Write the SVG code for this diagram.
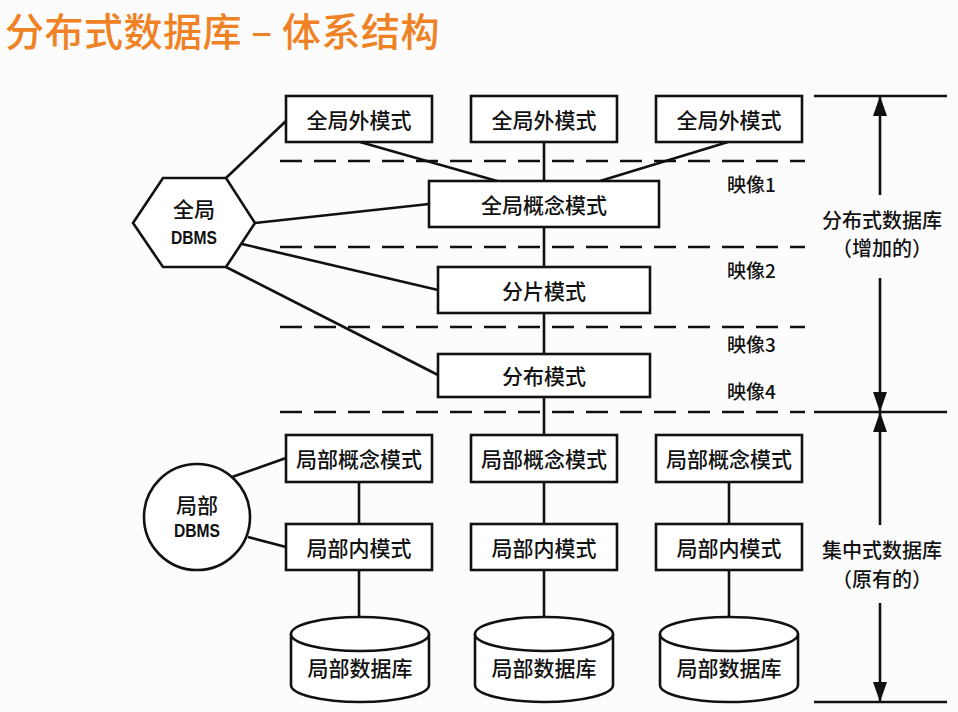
<svg xmlns="http://www.w3.org/2000/svg" width="958" height="712" viewBox="0 0 958 712">
<defs>
<marker id="ah" markerWidth="20" markerHeight="14" refX="20" refY="7" orient="auto" markerUnits="userSpaceOnUse" viewBox="0 0 20 14">
<path d="M0,0 L20,7 L0,14 Z" fill="#111"/>
</marker>
<style>
.box{fill:#fff;stroke:#111;stroke-width:2.6}
.ln{stroke:#111;stroke-width:2.6;fill:none}
.dash{stroke:#111;stroke-width:2.6;stroke-dasharray:22 12;fill:none}
.t{font-family:"Noto Sans CJK SC","Liberation Sans",sans-serif;font-size:21px;font-weight:500;fill:#111;text-anchor:middle;dominant-baseline:central}
.r{font-family:"Noto Sans CJK SC","Liberation Sans",sans-serif;font-size:20px;font-weight:500;fill:#111;text-anchor:middle;dominant-baseline:central}
.m{font-family:"Noto Sans CJK SC","Liberation Sans",sans-serif;font-size:19px;font-weight:500;fill:#111;dominant-baseline:central}
.d{font-family:"Liberation Sans",sans-serif;font-size:19px;font-weight:bold;fill:#111;text-anchor:middle;dominant-baseline:central}
</style>
</defs>
<rect width="958" height="712" fill="#fcfcfc"/>
<text x="5" y="46" font-family="Noto Sans CJK SC,Liberation Sans,sans-serif" font-size="39" font-weight="500" letter-spacing="0.5" fill="#F08226">分布式数据库 – 体系结构</text>

<g id="connectors">
<line class="ln" x1="226" y1="178" x2="286" y2="121"/>
<line class="ln" x1="255" y1="223" x2="429" y2="204"/>
<line class="ln" x1="242" y1="244" x2="438" y2="290"/>
<line class="ln" x1="226" y1="267" x2="438" y2="375"/>
<line class="ln" x1="360" y1="142" x2="497" y2="181"/>
<line class="ln" x1="728" y1="142" x2="600" y2="181"/>
<line class="ln" x1="544" y1="142" x2="544" y2="435"/>
<line class="ln" x1="232" y1="477" x2="286" y2="458"/>
<line class="ln" x1="248" y1="537" x2="286" y2="547"/>
<line class="ln" x1="359" y1="482" x2="359" y2="524"/>
<line class="ln" x1="544" y1="482" x2="544" y2="524"/>
<line class="ln" x1="729" y1="482" x2="729" y2="524"/>
<line class="ln" x1="359" y1="570" x2="359" y2="617"/>
<line class="ln" x1="544" y1="570" x2="544" y2="617"/>
<line class="ln" x1="729" y1="570" x2="729" y2="617"/>
</g>

<g id="mapping-lines">
<line class="dash" x1="280" y1="161" x2="805" y2="161"/>
<line class="dash" x1="280" y1="247" x2="805" y2="247"/>
<line class="dash" x1="280" y1="327" x2="805" y2="327"/>
<line class="dash" x1="280" y1="412" x2="805" y2="412"/>
<text class="m" x="727" y="183">映像1</text>
<text class="m" x="727" y="269">映像2</text>
<text class="m" x="727" y="343">映像3</text>
<text class="m" x="727" y="390">映像4</text>
</g>

<g id="scale">
<line class="ln" x1="814" y1="96" x2="947" y2="96"/>
<line class="ln" x1="814" y1="412" x2="947" y2="412"/>
<line class="ln" x1="814" y1="702" x2="947" y2="702"/>
<line class="ln" x1="880" y1="195" x2="880" y2="96" marker-end="url(#ah)"/>
<line class="ln" x1="880" y1="278" x2="880" y2="412" marker-end="url(#ah)"/>
<line class="ln" x1="880" y1="525" x2="880" y2="412" marker-end="url(#ah)"/>
<line class="ln" x1="880" y1="603" x2="880" y2="702" marker-end="url(#ah)"/>
<text class="r" x="882" y="219">分布式数据库</text>
<text class="r" x="882" y="247">（增加的）</text>
<text class="r" x="882" y="549">集中式数据库</text>
<text class="r" x="882" y="578">（原有的）</text>
</g>

<g id="global-dbms">
<polygon class="box" points="133,223 163,178 226,178 255,223 226,267 163,267"/>
<text class="t" x="194" y="208">全局</text>
<text class="d" x="194" y="237" textLength="46" lengthAdjust="spacingAndGlyphs">DBMS</text>
</g>
<g id="ext1"><rect class="box" x="286" y="96" width="146" height="46"/><text class="t" x="359" y="119">全局外模式</text></g>
<g id="ext2"><rect class="box" x="471" y="96" width="146" height="46"/><text class="t" x="544" y="119">全局外模式</text></g>
<g id="ext3"><rect class="box" x="656" y="96" width="146" height="46"/><text class="t" x="729" y="119">全局外模式</text></g>
<g id="global-concept"><rect class="box" x="429" y="181" width="230" height="46"/><text class="t" x="544" y="204">全局概念模式</text></g>
<g id="fragment"><rect class="box" x="438" y="267" width="212" height="46"/><text class="t" x="544" y="290">分片模式</text></g>
<g id="distribution"><rect class="box" x="438" y="354" width="212" height="43"/><text class="t" x="544" y="375">分布模式</text></g>

<g id="local-dbms">
<circle class="box" cx="197" cy="517" r="53"/>
<text class="t" x="197" y="504">局部</text>
<text class="d" x="197" y="530" textLength="46" lengthAdjust="spacingAndGlyphs">DBMS</text>
</g>
<g id="lc1"><rect class="box" x="286" y="435" width="146" height="47"/><text class="t" x="359" y="458">局部概念模式</text></g>
<g id="lc2"><rect class="box" x="471" y="435" width="146" height="47"/><text class="t" x="544" y="458">局部概念模式</text></g>
<g id="lc3"><rect class="box" x="656" y="435" width="146" height="47"/><text class="t" x="729" y="458">局部概念模式</text></g>
<g id="li1"><rect class="box" x="286" y="524" width="146" height="46"/><text class="t" x="359" y="547">局部内模式</text></g>
<g id="li2"><rect class="box" x="471" y="524" width="146" height="46"/><text class="t" x="544" y="547">局部内模式</text></g>
<g id="li3"><rect class="box" x="656" y="524" width="146" height="46"/><text class="t" x="729" y="547">局部内模式</text></g>

<g id="db1">
<path class="box" d="M291,634 L291,685 A69,17 0 0 0 429,685 L429,634"/>
<ellipse class="box" cx="360" cy="634" rx="69" ry="17"/>
<text class="t" x="360" y="667">局部数据库</text>
</g>
<g id="db2">
<path class="box" d="M475,634 L475,685 A69,17 0 0 0 613,685 L613,634"/>
<ellipse class="box" cx="544" cy="634" rx="69" ry="17"/>
<text class="t" x="544" y="667">局部数据库</text>
</g>
<g id="db3">
<path class="box" d="M660,634 L660,685 A69,17 0 0 0 798,685 L798,634"/>
<ellipse class="box" cx="729" cy="634" rx="69" ry="17"/>
<text class="t" x="729" y="667">局部数据库</text>
</g>
</svg>
